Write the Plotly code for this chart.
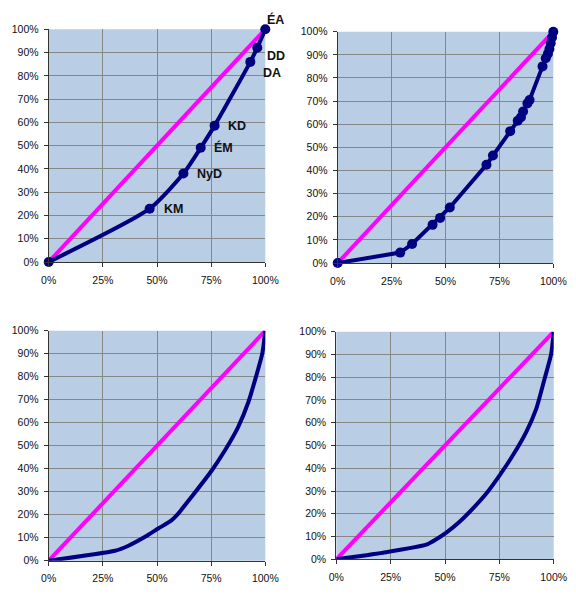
import plotly.graph_objects as go

# ---- data ----
EQ_X = [0, 1]
EQ_Y = [0, 1]

TL_LABELS = ["", "KM", "NyD", "ÉM", "KD", "DA", "DD", "ÉA"]
TL_X = [0, 0.466, 0.622, 0.702, 0.766, 0.931, 0.963, 1.0]
TL_Y = [0, 0.229, 0.380, 0.491, 0.586, 0.860, 0.921, 1.0]

TR_X = [0, 0.29, 0.345, 0.44, 0.475, 0.52, 0.69, 0.72, 0.80, 0.835, 0.85, 0.86,
        0.88, 0.89, 0.95, 0.965, 0.975, 0.982, 0.988, 0.994, 1.0]
TR_Y = [0, 0.045, 0.082, 0.165, 0.195, 0.24, 0.425, 0.465, 0.57, 0.615, 0.63, 0.655,
        0.69, 0.705, 0.85, 0.885, 0.905, 0.925, 0.95, 0.975, 1.0]

BL_X = [0, 0.306, 0.368, 0.445, 0.506, 0.565, 0.598, 0.66, 0.752, 0.814, 0.875, 0.922, 0.957, 0.986, 1.0]
BL_Y = [0, 0.043, 0.065, 0.104, 0.140, 0.174, 0.205, 0.278, 0.391, 0.48, 0.582, 0.69, 0.80, 0.90, 1.0]

BR_X = [0, 0.215, 0.414, 0.46, 0.506, 0.567, 0.629, 0.69, 0.752, 0.813, 0.874, 0.92, 0.96, 0.988, 1.0]
BR_Y = [0, 0.029, 0.064, 0.088, 0.117, 0.165, 0.224, 0.289, 0.37, 0.458, 0.56, 0.662, 0.80, 0.90, 1.0]

X_TICKS = [0, 0.25, 0.5, 0.75, 1.0]
X_TICKTEXT = ["0%", "25%", "50%", "75%", "100%"]
Y_TICKS = [i / 10 for i in range(11)]
Y_TICKTEXT = [f"{i*10}%" for i in range(11)]

# ---- style ----
NAVY = "#000080"
MAGENTA = "#FF00FF"
BG = "#B9CDE5"
GRID = "#878787"
FONT = dict(family="Liberation Sans, Arial, sans-serif", size=10.5, color="#111111")

OFF = 8  # page body margin
W, H = 576 - OFF, 594 - OFF
def dx(a, b):
    return [(a - OFF) / W, (b - OFF) / W]
def dy(top, bottom):
    return [1 - (bottom - OFF) / H, 1 - (top - OFF) / H]

panels = [
    ("x", "y", dx(48.7, 265.3), dy(29.3, 262.0)),
    ("x2", "y2", dx(337.7, 553.3), dy(31.7, 263.0)),
    ("x3", "y3", dx(48.7, 265.3), dy(330.7, 560.7)),
    ("x4", "y4", dx(336.3, 553.7), dy(331.7, 559.3)),
]

fig = go.Figure()

series = [
    (TL_X, TL_Y, True, "spline"),
    (TR_X, TR_Y, True, "linear"),
    (BL_X, BL_Y, False, "spline"),
    (BR_X, BR_Y, False, "spline"),
]

layout = {}
shapes = []
for i, ((xa, ya, xd, yd), (sx, sy, mk, shape)) in enumerate(zip(panels, series)):
    n = "" if i == 0 else str(i + 1)
    fig.add_trace(go.Scatter(x=EQ_X, y=EQ_Y, mode="lines", xaxis=xa, yaxis=ya,
                             line=dict(color=MAGENTA, width=4), showlegend=False,
                             cliponaxis=False, hoverinfo="skip"))
    fig.add_trace(go.Scatter(x=sx, y=sy, mode="lines+markers" if mk else "lines",
                             xaxis=xa, yaxis=ya,
                             line=dict(color=NAVY, width=4, shape=shape, smoothing=0.6),
                             marker=dict(color=NAVY, size=10),
                             showlegend=False, cliponaxis=False))
    common = dict(range=[0, 1], showgrid=True, gridcolor=GRID, gridwidth=1,
                  zeroline=False, showline=True, linecolor="#333333", linewidth=1,
                  ticks="outside", ticklen=4, tickcolor="#333333", automargin=False,
                  tickfont=FONT, fixedrange=True)
    layout["xaxis" + n] = dict(domain=xd, anchor=ya, tickvals=X_TICKS, ticktext=X_TICKTEXT,
                               ticklabelstandoff=4, **common)
    layout["yaxis" + n] = dict(domain=yd, anchor=xa, tickvals=Y_TICKS, ticktext=Y_TICKTEXT,
                               ticklabelstandoff=3, **common)
    shapes.append(dict(type="rect", xref=xa + " domain", yref=ya + " domain",
                       x0=0, x1=1, y0=0, y1=1, fillcolor=BG, line=dict(width=0),
                       layer="below"))

# labels on top-left chart
offsets = {"KM": (12, 0, "left", "middle"), "NyD": (12, 0, "left", "middle"),
           "ÉM": (11, 0, "left", "middle"), "KD": (11, 0, "left", "middle"),
           "DA": (11, -11, "left", "middle"), "DD": (8, -8, "left", "middle"),
           "ÉA": (0, 10, "left", "middle")}
annotations = []
for lab, x, y in zip(TL_LABELS, TL_X, TL_Y):
    if not lab:
        continue
    xs, ys, xa_, ya_ = offsets[lab]
    annotations.append(dict(x=x, y=y, xref="x", yref="y", text=lab, showarrow=False,
                            xanchor=xa_, yanchor=ya_, xshift=xs, yshift=ys,
                            font=dict(family="Liberation Sans, Arial, sans-serif",
                                      size=12.5, color="#111111", weight="bold")))

fig.update_layout(width=W, height=H, margin=dict(l=0, r=0, t=0, b=0, autoexpand=False),
                  paper_bgcolor="white", plot_bgcolor="rgba(0,0,0,0)",
                  shapes=shapes, annotations=annotations, **layout)

fig.write_html("out.html")
